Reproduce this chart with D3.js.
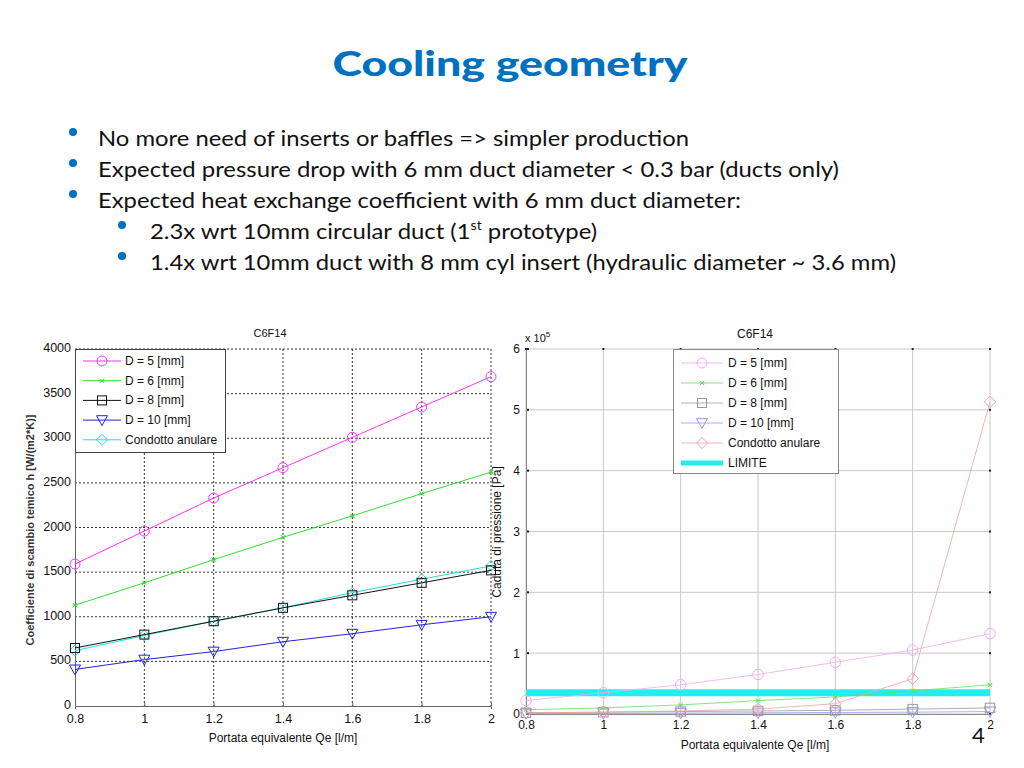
<!DOCTYPE html>
<html><head><meta charset="utf-8">
<script src="https://cdn.jsdelivr.net/npm/d3@7"></script>
<style>
body{margin:0;background:#fff;}
svg text{font-family:"Liberation Sans",Arial,sans-serif;}
</style></head>
<body><svg id="c" width="1024" height="768"></svg>
<script>
// ---------- DATA ----------
const xValues = [0.8, 1.0, 1.2, 1.4, 1.6, 1.8, 2.0];
const xTickLabels = ["0.8","1","1.2","1.4","1.6","1.8","2"];
const seriesNames = ["D = 5 [mm]","D = 6 [mm]","D = 8 [mm]","D = 10 [mm]","Condotto anulare"];
// heat exchange coefficient h [W/(m2*K)]
const hD5  = [1590, 1960, 2330, 2670, 3010, 3350, 3690];
const hD6  = [1130, 1380, 1640, 1890, 2130, 2380, 2620];
const hD8  = [650, 800, 950, 1100, 1240, 1380, 1520];
const hD10 = [410, 520, 610, 720, 810, 910, 1000];
const hAnn = [620, 790, 950, 1100, 1270, 1420, 1570];
const hTicks = [0,500,1000,1500,2000,2500,3000,3500,4000];
// pressure drop [Pa] in units of 1e5
const pD5  = [0.22, 0.35, 0.48, 0.65, 0.85, 1.05, 1.32];
const pD6  = [0.07, 0.10, 0.15, 0.22, 0.28, 0.38, 0.48];
const pD8  = [0.02, 0.03, 0.04, 0.05, 0.06, 0.08, 0.10];
const pD10 = [0.01, 0.01, 0.015, 0.02, 0.025, 0.03, 0.04];
const pAnn = [0.02, 0.03, 0.05, 0.08, 0.17, 0.58, 5.13];
const pLimite = [0.35, 0.35, 0.35, 0.35, 0.35, 0.35, 0.35];
const pTicks = [0,1,2,3,4,5,6];
const bullets = [
  "No more need of inserts or baffles => simpler production",
  "Expected pressure drop with 6 mm duct diameter < 0.3 bar (ducts only)",
  "Expected heat exchange coefficient with 6 mm duct diameter:"
];

const svg = d3.select("#c");
svg.append("rect").attr("width",1024).attr("height",768).attr("fill","#fff");

// ---------- Title & bullets ----------
svg.append("text").attr("x",510).attr("y",76).attr("text-anchor","middle")
  .attr("font-weight",900).attr("font-size",34)
  .attr("fill","#0070C0").attr("textLength",355).attr("lengthAdjust","spacingAndGlyphs")
  .style("font-family","Lato").text("Cooling geometry");

const bulletWidths = [591, 741, 643];
bullets.forEach((t,i)=>{
  const y = 146 + i*31;
  svg.append("circle").attr("cx",73).attr("cy",y-14).attr("r",4).attr("fill","#0070C0");
  svg.append("text").attr("x",98).attr("y",y).attr("font-size",22)
    .style("font-family","Lato").attr("fill","#111")
    .attr("textLength",bulletWidths[i]).attr("lengthAdjust","spacingAndGlyphs").text(t);
});
svg.append("circle").attr("cx",122).attr("cy",239-14).attr("r",4).attr("fill","#0070C0");
const sb1 = svg.append("g").attr("transform","translate(150,239) scale(1.085,1)")
  .append("text").attr("x",0).attr("y",0).attr("font-size",22).style("font-family","Lato").attr("fill","#111");
sb1.append("tspan").text("2.3x wrt 10mm circular duct (1");
sb1.append("tspan").attr("font-size",13).attr("dy",-9).text("st");
sb1.append("tspan").attr("dy",9).text(" prototype)");
svg.append("circle").attr("cx",122).attr("cy",270-14).attr("r",4).attr("fill","#0070C0");
svg.append("text").attr("x",150).attr("y",270).attr("font-size",22).style("font-family","Lato").attr("fill","#111")
  .attr("textLength",746).attr("lengthAdjust","spacingAndGlyphs")
  .text("1.4x wrt 10mm duct with 8 mm cyl insert (hydraulic diameter ~ 3.6 mm)");

// ---------- marker drawing ----------
function marker(g, type, x, y, color, s){
  s = s||1;
  if(type==="circle"){
    g.append("circle").attr("cx",x).attr("cy",y).attr("r",5*s).attr("fill","none").attr("stroke",color);
  } else if(type==="x"){
    const d=2.2*s;
    g.append("path").attr("d",`M${x-d},${y-d}L${x+d},${y+d}M${x-d},${y+d}L${x+d},${y-d}M${x-d},${y}L${x+d},${y}`).attr("stroke",color).attr("fill","none");
  } else if(type==="square"){
    const d=4.5*s;
    g.append("rect").attr("x",x-d).attr("y",y-d).attr("width",2*d).attr("height",2*d).attr("fill","none").attr("stroke",color);
  } else if(type==="tri"){
    const d=5.5*s;
    g.append("path").attr("d",`M${x-d},${y-d*0.8}L${x+d},${y-d*0.8}L${x},${y+d}Z`).attr("fill","none").attr("stroke",color);
  } else if(type==="diamond"){
    const d=5.5*s;
    g.append("path").attr("d",`M${x},${y-d}L${x+d},${y}L${x},${y+d}L${x-d},${y}Z`).attr("fill","none").attr("stroke",color);
  }
}

// ---------- LEFT CHART ----------
const L = svg.append("g");
const lx = d3.scaleLinear().domain([0.8,2]).range([75,491]);
const ly = d3.scaleLinear().domain([0,4000]).range([706,349]);
xValues.slice(1).forEach(v=>{
  L.append("line").attr("x1",lx(v)).attr("x2",lx(v)).attr("y1",349).attr("y2",706)
   .attr("stroke","#333").attr("stroke-dasharray","2,2");
});
hTicks.slice(1).forEach(v=>{
  L.append("line").attr("x1",75).attr("x2",491).attr("y1",ly(v)).attr("y2",ly(v))
   .attr("stroke","#333").attr("stroke-dasharray","2,2");
});
const lxAxis = L.append("g").attr("transform","translate(0,706)")
  .call(d3.axisBottom(lx).tickValues(xValues).tickFormat((d,i)=>xTickLabels[i]).tickSize(3).tickPadding(5));
const lyAxis = L.append("g").attr("transform","translate(75,0)")
  .call(d3.axisLeft(ly).tickValues(hTicks).tickFormat(d3.format("d")).tickSize(0).tickPadding(4));
[lxAxis,lyAxis].forEach(a=>{a.selectAll("path").attr("stroke","#666");a.selectAll("line").attr("stroke","#666");
  a.selectAll("text").attr("font-size",12.5).attr("fill","#111").style("font-family","Liberation Sans");});
lxAxis.selectAll("line").attr("y2",-3);
lyAxis.selectAll("text").attr("dy","0.2em");
L.append("text").attr("x",270).attr("y",337).attr("text-anchor","middle").attr("font-size",11).attr("fill","#111").text("C6F14");
L.append("text").attr("x",283).attr("y",742).attr("text-anchor","middle").attr("font-size",12).attr("fill","#111").text("Portata equivalente Qe [l/m]");
L.append("text").attr("transform","translate(34,530) rotate(-90)").attr("text-anchor","middle")
  .attr("font-size",11).attr("font-weight","bold").attr("fill","#333")
  .text("Coefficiente di scambio temico h [W/(m2*K)]");

const leftSeries = [
  {v:hD5, c:"#ff33ff", m:"circle"},
  {v:hD6, c:"#33dd33", m:"x"},
  {v:hD8, c:"#111111", m:"square"},
  {v:hD10,c:"#2222dd", m:"tri"},
  {v:hAnn,c:"#22dddd", m:"diamond"}
];
const lline = d3.line().x((d,i)=>lx(xValues[i])).y(d=>ly(d));
[4,0,1,3,2].forEach(k=>{
  const s = leftSeries[k];
  L.append("path").attr("d",lline(s.v)).attr("fill","none").attr("stroke",s.c).attr("stroke-width",1);
  s.v.forEach((d,i)=>marker(L,s.m,lx(xValues[i]),ly(d),s.c));
});
L.append("rect").attr("x",75.5).attr("y",349.5).attr("width",150).attr("height",103).attr("fill","#fff").attr("stroke","#444");
seriesNames.forEach((n,i)=>{
  const y = 361 + i*19.7, s = leftSeries[i];
  L.append("line").attr("x1",83).attr("x2",121).attr("y1",y).attr("y2",y).attr("stroke",s.c);
  marker(L,s.m,102,y,s.c);
  L.append("text").attr("x",125).attr("y",y+4).attr("font-size",12).attr("fill","#111").text(n);
});

// ---------- RIGHT CHART ----------
const R = svg.append("g");
const rx = d3.scaleLinear().domain([0.8,2]).range([526,990]);
const ry = d3.scaleLinear().domain([0,6]).range([714,349]);
xValues.forEach(v=>{
  R.append("line").attr("x1",rx(v)).attr("x2",rx(v)).attr("y1",349).attr("y2",714).attr("stroke","#c8c8c8");
});
pTicks.forEach(v=>{
  R.append("line").attr("x1",526).attr("x2",990).attr("y1",ry(v)).attr("y2",ry(v)).attr("stroke","#c8c8c8");
});
xValues.forEach(v=>{R.append("rect").attr("x",rx(v)-1).attr("y",348).attr("width",2).attr("height",2).attr("fill","#222");});
pTicks.forEach(v=>{R.append("rect").attr("x",989).attr("y",ry(v)-1).attr("width",2).attr("height",2).attr("fill","#222");
  R.append("rect").attr("x",526).attr("y",ry(v)-1).attr("width",3).attr("height",2).attr("fill","#222");});
const rxAxis = R.append("g").attr("transform","translate(0,714)")
  .call(d3.axisBottom(rx).tickValues(xValues).tickFormat((d,i)=>xTickLabels[i]).tickSize(0).tickPadding(6));
const ryAxis = R.append("g").attr("transform","translate(526,0)")
  .call(d3.axisLeft(ry).tickValues(pTicks).tickFormat(d3.format("d")).tickSize(0).tickPadding(6));
[rxAxis,ryAxis].forEach(a=>{a.selectAll("path").attr("stroke","#888");
  a.selectAll("text").attr("font-size",12).attr("fill","#111").style("font-family","Liberation Sans");});
R.append("text").attr("x",755).attr("y",338).attr("text-anchor","middle").attr("font-size",12).attr("fill","#111").text("C6F14");
const xt = R.append("text").attr("x",525).attr("y",342).attr("font-size",11).attr("fill","#111");
xt.append("tspan").text("x 10");
xt.append("tspan").attr("font-size",8).attr("dy",-5).text("5");
R.append("text").attr("x",755).attr("y",749).attr("text-anchor","middle").attr("font-size",12).attr("fill","#111").text("Portata equivalente Qe [l/m]");
R.append("text").attr("transform","translate(501,532) rotate(-90)").attr("text-anchor","middle")
  .attr("font-size",12).attr("fill","#111").text("Caduta di pressione [Pa]");

const rightSeries = [
  {v:pD5, c:"#f4a8f4", m:"circle"},
  {v:pD6, c:"#66dd66", m:"x"},
  {v:pD8, c:"#999999", m:"square"},
  {v:pD10,c:"#9999ee", m:"tri"},
  {v:pAnn,c:"#f4a0a8", m:"diamond"}
];
const rline = d3.line().x((d,i)=>rx(xValues[i])).y(d=>ry(d));
R.append("path").attr("d",rline(pLimite)).attr("fill","none").attr("stroke","#22eef0").attr("stroke-width",7);
[3,2,1,0,4].forEach(k=>{
  const s = rightSeries[k];
  R.append("path").attr("d",rline(s.v)).attr("fill","none").attr("stroke",s.c).attr("stroke-width",0.8);
  s.v.forEach((d,i)=>marker(R,s.m,rx(xValues[i]),ry(d),s.c,1.05));
});
R.append("rect").attr("x",673.5).attr("y",349.5).attr("width",165).attr("height",124).attr("fill","#fff").attr("stroke","#888");
const rNames = seriesNames.concat(["LIMITE"]);
rNames.forEach((n,i)=>{
  const y = 363 + i*20;
  if(i<5){
    const s = rightSeries[i];
    R.append("line").attr("x1",681).attr("x2",723).attr("y1",y).attr("y2",y).attr("stroke",s.c).attr("stroke-width",0.8);
    marker(R,s.m,702,y,s.c);
  } else {
    R.append("line").attr("x1",681).attr("x2",723).attr("y1",y).attr("y2",y).attr("stroke","#22eef0").attr("stroke-width",5);
  }
  R.append("text").attr("x",728).attr("y",y+4).attr("font-size",12).attr("fill","#111").text(n);
});

// slide number
svg.append("text").attr("x",972).attr("y",743).attr("font-size",22).attr("fill","#111")
  .style("font-family","Lato").text("4");
</script>
</body></html>
